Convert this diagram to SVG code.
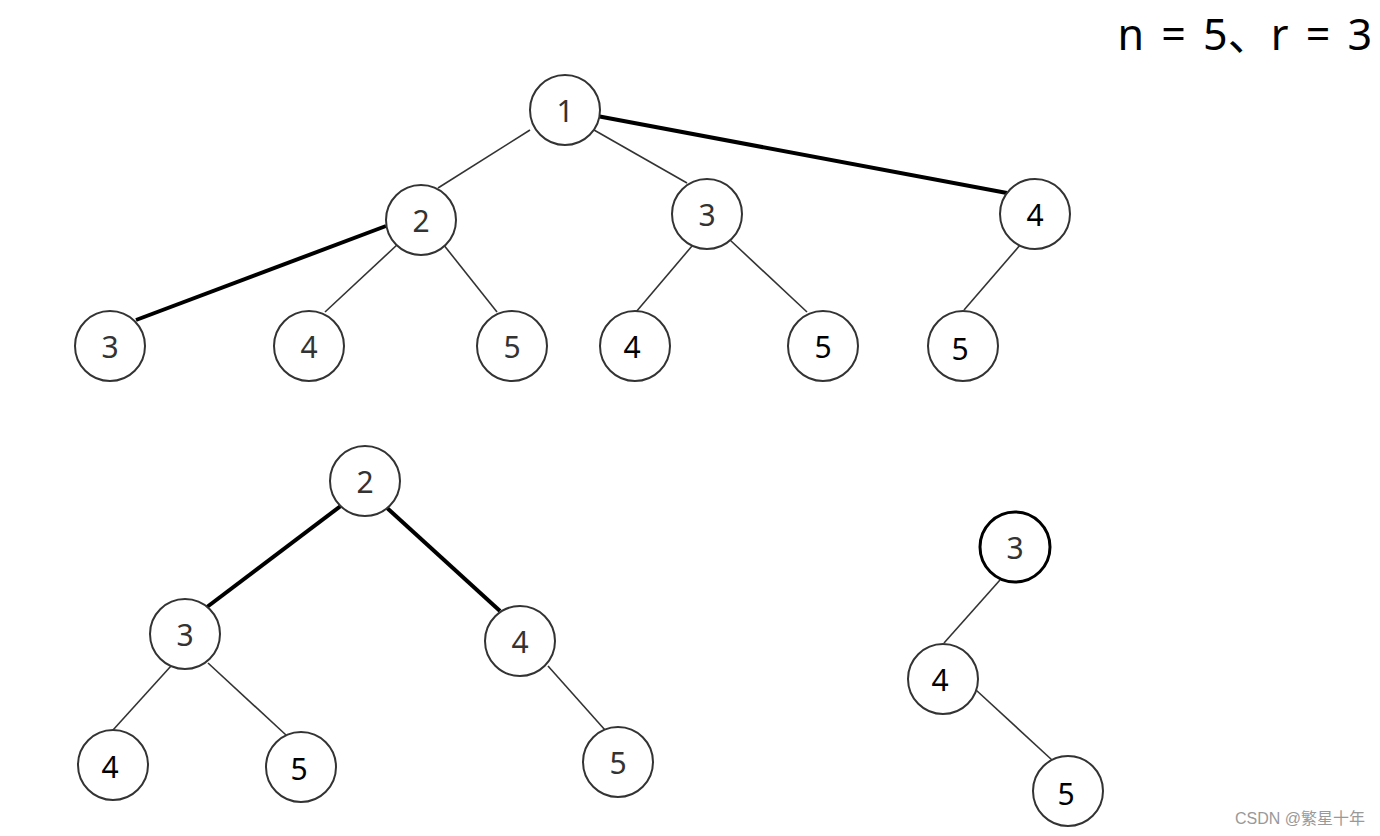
<svg xmlns="http://www.w3.org/2000/svg" width="1380" height="836" viewBox="0 0 1380 836">
<style>
.n circle{fill:#fff;stroke:#333;stroke-width:2}
.n text{font-family:"Noto Sans","Noto Sans CJK SC",sans-serif;font-size:30px;fill:#333;text-anchor:middle;dominant-baseline:central}
.e line{stroke:#333;stroke-width:1.6}
.e line.b{stroke:#000;stroke-width:4}
</style>
<rect width="1380" height="836" fill="#fff"/>
<g class="e" id="connectors">
<line x1="530" y1="130" x2="438" y2="188"/>
<line x1="594" y1="130" x2="687" y2="183"/>
<line class="b" x1="597" y1="116" x2="1007" y2="193"/>
<line class="b" x1="386" y1="226" x2="136" y2="320"/>
<line x1="398" y1="244" x2="325" y2="312"/>
<line x1="443" y1="244" x2="497" y2="312"/>
<line x1="692" y1="246" x2="636" y2="312"/>
<line x1="730" y1="240" x2="807" y2="312"/>
<line x1="1021" y1="244" x2="964" y2="310"/>
<line class="b" x1="342" y1="505" x2="207" y2="607"/>
<line class="b" x1="386" y1="507" x2="500" y2="611"/>
<line x1="171" y1="666" x2="113" y2="730"/>
<line x1="208" y1="663" x2="286" y2="735"/>
<line x1="548" y1="666" x2="605" y2="730"/>
<line x1="1000" y1="580" x2="944" y2="643"/>
<line x1="976" y1="690" x2="1052" y2="760"/>
</g>
<g class="n" id="t1n1"><circle cx="565" cy="110" r="35"/><text x="565" y="110">1</text></g>
<g class="n" id="t1n2"><circle cx="421" cy="220" r="35"/><text x="421" y="220">2</text></g>
<g class="n" id="t1n3"><circle cx="707" cy="214" r="35"/><text x="707" y="214">3</text></g>
<g class="n" id="t1n4"><circle cx="1035" cy="214" r="35"/><text x="1035" y="214" style="fill:#000">4</text></g>
<g class="n" id="t1n23"><circle cx="110" cy="346" r="35"/><text x="110" y="346">3</text></g>
<g class="n" id="t1n24"><circle cx="309" cy="346" r="35"/><text x="309" y="346">4</text></g>
<g class="n" id="t1n25"><circle cx="512" cy="346" r="35"/><text x="512" y="346">5</text></g>
<g class="n" id="t1n34"><circle cx="635" cy="346" r="35"/><text x="632" y="346" style="fill:#000">4</text></g>
<g class="n" id="t1n35"><circle cx="823" cy="346" r="35"/><text x="823" y="346" style="fill:#000">5</text></g>
<g class="n" id="t1n45"><circle cx="963" cy="346" r="35"/><text x="960" y="348" style="fill:#000">5</text></g>
<g class="n" id="t2n2"><circle cx="365" cy="481" r="35"/><text x="365" y="481">2</text></g>
<g class="n" id="t2n3"><circle cx="185" cy="634" r="35"/><text x="185" y="634">3</text></g>
<g class="n" id="t2n4"><circle cx="520" cy="641" r="35"/><text x="520" y="641">4</text></g>
<g class="n" id="t2n34"><circle cx="113" cy="765" r="35"/><text x="110" y="766" style="fill:#000">4</text></g>
<g class="n" id="t2n35"><circle cx="301" cy="767" r="35"/><text x="299" y="768" style="fill:#000">5</text></g>
<g class="n" id="t2n45"><circle cx="618" cy="762" r="35"/><text x="618" y="762">5</text></g>
<g class="n" id="t3n3"><circle cx="1015" cy="547" r="35" style="stroke:#000;stroke-width:3"/><text x="1015" y="547">3</text></g>
<g class="n" id="t3n4"><circle cx="943" cy="679" r="35"/><text x="940" y="679" style="fill:#000">4</text></g>
<g class="n" id="t3n5"><circle cx="1068" cy="791" r="35"/><text x="1066" y="793" style="fill:#000">5</text></g>
<text x="1372" y="50" text-anchor="end" font-family="Noto Sans,Noto Sans CJK SC,sans-serif" font-size="43" word-spacing="6" fill="#000">n = 5、r = 3</text>
<text x="1365" y="824" text-anchor="end" font-family="Liberation Sans,Noto Sans CJK SC,sans-serif" font-size="16" fill="#999">CSDN @繁星十年</text>
</svg>
